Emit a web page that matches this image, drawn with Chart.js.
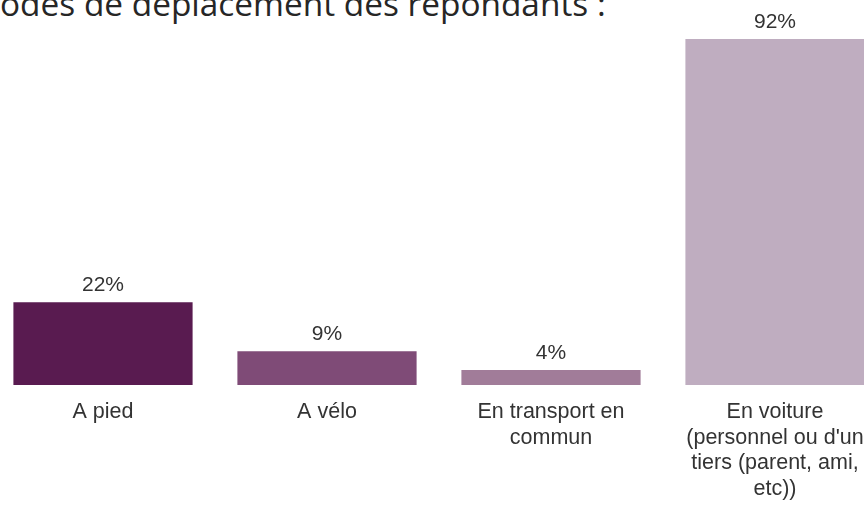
<!DOCTYPE html>
<html lang="fr">
<head>
    <meta charset="UTF-8">
    <title>Modes de déplacement des répondants</title>
    <style>
        body { margin: 0; width: 864px; height: 506px; overflow: hidden; position: relative; background: #fff; }
        #title {
            position: absolute;
            top: -12.6px;
            left: -30px;
            font-family: "Open Sans", sans-serif;
            font-size: 33.4px;
            line-height: 33.4px;
            color: #262626;
            white-space: nowrap;
        }
        #chart { position: absolute; left: -9px; top: 0; }
    </style>
</head>
<body>
    <div id="title">Modes de déplacement des répondants :</div>
    <canvas id="chart" width="896" height="506"></canvas>

    <script src="https://cdn.jsdelivr.net/npm/chart.js"></script>
<script>
    // Data
    const categories = [
        ['A pied'],
        ['A vélo'],
        ['En transport en', 'commun'],
        ['En voiture', "(personnel ou d'un", 'tiers (parent, ami,', 'etc))']
    ];
    const shares = [22, 9, 4, 92];
    const barColors = ['#591b50', '#7f4b77', '#a17c99', '#bfadc0'];

    // value labels above bars
    const valueLabels = {
        id: 'valueLabels',
        afterDatasetsDraw(chart) {
            const ctx = chart.ctx;
            const meta = chart.getDatasetMeta(0);
            ctx.save();
            ctx.font = '21px "Liberation Sans", Arial, sans-serif';
            ctx.fillStyle = '#333333';
            ctx.textAlign = 'center';
            ctx.textBaseline = 'alphabetic';
            meta.data.forEach((bar, i) => {
                ctx.fillText(shares[i] + '%', bar.x, bar.y - 11);
            });
            ctx.restore();
        }
    };

    new Chart(document.getElementById('chart'), {
        type: 'bar',
        data: {
            labels: categories,
            datasets: [{
                data: shares,
                backgroundColor: barColors,
                borderWidth: 0,
                barPercentage: 0.8,
                categoryPercentage: 1.0
            }]
        },
        options: {
            responsive: false,
            animation: false,
            layout: { padding: { top: 9, left: 0, right: 0, bottom: 0 } },
            plugins: {
                legend: { display: false },
                tooltip: { enabled: false }
            },
            scales: {
                x: {
                    grid: { display: false },
                    border: { display: false },
                    ticks: {
                        color: '#333333',
                        font: { family: '"Liberation Sans", Arial, sans-serif', size: 21.5, lineHeight: 1.2 },
                        padding: 6,
                        maxRotation: 0,
                        autoSkip: false
                    },
                    afterFit(scale) { scale.height = 121; }
                },
                y: {
                    display: false,
                    min: 0,
                    max: 100
                }
            }
        },
        plugins: [valueLabels]
    });
</script>
</body>
</html>
